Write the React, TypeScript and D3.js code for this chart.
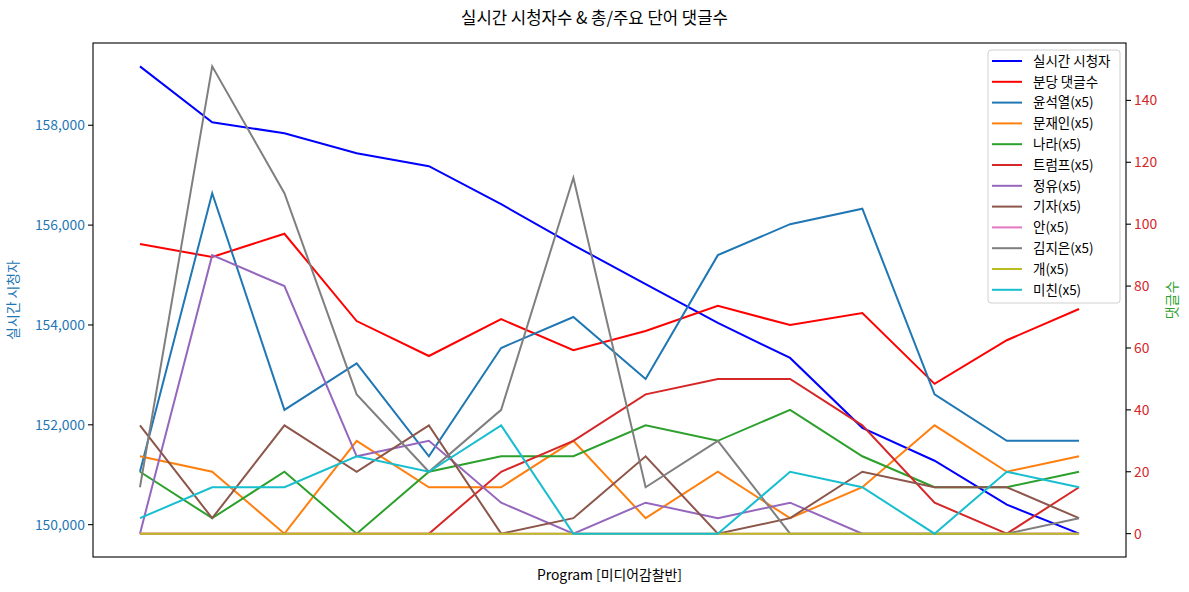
import React from "react";
import * as d3 from "d3";

const W = 1189;
const H = 592;
const FONT = "'Noto Sans CJK KR', 'Noto Sans', sans-serif";

const programs = d3.range(14);
const viewers = [159180, 158060, 157840, 157440, 157180, 156420, 155600, 154820, 154040, 153340, 151940, 151280, 150400, 149820];
const perMinute = [93.6, 89.4, 96.9, 68.7, 57.4, 69.3, 59.3, 65.5, 73.6, 67.4, 71.3, 48.4, 62.5, 72.6];
const yoon = [20, 110, 40, 55, 25, 60, 70, 50, 90, 100, 105, 45, 30, 30];
const moon = [25, 20, 0, 30, 15, 15, 30, 5, 20, 5, 15, 35, 20, 25];
const nara = [20, 5, 20, 0, 20, 25, 25, 35, 30, 40, 25, 15, 15, 20];
const trump = [0, 0, 0, 0, 0, 20, 30, 45, 50, 50, 35, 10, 0, 15];
const jeongyu = [0, 90, 80, 25, 30, 10, 0, 10, 5, 10, 0, 0, 0, 0];
const reporter = [35, 5, 35, 20, 35, 0, 5, 25, 0, 5, 20, 15, 15, 5];
const an = [0, 0, 0, 0, 0, 0, 0, 0, 0, 0, 0, 0, 0, 0];
const kimjieun = [15, 151, 110, 45, 20, 40, 115, 15, 30, 0, 0, 0, 0, 5];
const dog = [0, 0, 0, 0, 0, 0, 0, 0, 0, 0, 0, 0, 0, 0];
const crazy = [5, 15, 15, 25, 20, 35, 0, 0, 0, 20, 15, 0, 20, 15];

const leftTicks = [150000, 152000, 154000, 156000, 158000];
const rightTicks = [0, 20, 40, 60, 80, 100, 120, 140];

const title = "실시간 시청자수 & 총/주요 단어 댓글수";
const xLabel = "Program [미디어감찰반]";
const leftLabel = "실시간 시청자";
const rightLabel = "댓글수";

const rightSeries = [
  { name: "분당 댓글수", color: "#ff0000", values: perMinute },
  { name: "윤석열(x5)", color: "#1f77b4", values: yoon },
  { name: "문재인(x5)", color: "#ff7f0e", values: moon },
  { name: "나라(x5)", color: "#2ca02c", values: nara },
  { name: "트럼프(x5)", color: "#d62728", values: trump },
  { name: "정유(x5)", color: "#9467bd", values: jeongyu },
  { name: "기자(x5)", color: "#8c564b", values: reporter },
  { name: "안(x5)", color: "#e377c2", values: an },
  { name: "김지은(x5)", color: "#7f7f7f", values: kimjieun },
  { name: "개(x5)", color: "#bcbd22", values: dog },
  { name: "미친(x5)", color: "#17becf", values: crazy },
];
const legendItems = [{ name: "실시간 시청자", color: "#0000ff" }, ...rightSeries];

function pad(min: number, max: number): [number, number] {
  const m = (max - min) * 0.05;
  return [min - m, max + m];
}

export default function App() {
  const L = 93, R = 1126, T = 43, B = 557;
  const x = d3.scaleLinear().domain(pad(0, programs.length - 1)).range([L, R]);
  const yl = d3.scaleLinear().domain(pad(d3.min(viewers)!, d3.max(viewers)!)).range([B, T]);
  const allRight = rightSeries.flatMap((s) => s.values);
  const yr = d3.scaleLinear().domain(pad(d3.min(allRight)!, d3.max(allRight)!)).range([B, T]);
  const lineL = d3.line<number>().x((_, i) => x(i)).y((v) => yl(v));
  const lineR = d3.line<number>().x((_, i) => x(i)).y((v) => yr(v));
  const fmt = d3.format(",");

  const legX = 988, legY = 50, legW = 132, legH = 253, rowH = 20.8;
  const fs = 13.9;

  return (
    <svg width={W} height={H} style={{ position: "absolute", left: 0, top: 0, background: "#fff" }} fontFamily={FONT}>
      <rect x={0} y={0} width={W} height={H} fill="#fff" />
      <text x={W / 2} y={24} textAnchor="middle" fontSize={16.7} fill="#000">{title}</text>
      <path d={lineL(viewers)!} fill="none" stroke="#0000ff" strokeWidth={2} />
      {rightSeries.map((s) => (
        <path key={s.name} d={lineR(s.values)!} fill="none" stroke={s.color} strokeWidth={2} />
      ))}
      <rect x={L} y={T} width={R - L} height={B - T} fill="none" stroke="#000" strokeWidth={1.1} />
      {leftTicks.map((t) => (
        <g key={t} transform={`translate(${L},${yl(t)})`}>
          <line x1={-5} x2={0} stroke="#000" strokeWidth={1.1} />
          <text x={-8} dy="0.35em" textAnchor="end" fontSize={fs} fill="#1f77b4">{fmt(t)}</text>
        </g>
      ))}
      {rightTicks.map((t) => (
        <g key={t} transform={`translate(${R},${yr(t)})`}>
          <line x1={0} x2={5} stroke="#000" strokeWidth={1.1} />
          <text x={8} dy="0.35em" textAnchor="start" fontSize={fs} fill="#d62728">{t}</text>
        </g>
      ))}
      <text transform={`translate(18,${(T + B) / 2}) rotate(-90)`} textAnchor="middle" fontSize={fs} fill="#1f77b4">{leftLabel}</text>
      <text transform={`translate(1177,${(T + B) / 2}) rotate(-90)`} textAnchor="middle" fontSize={fs} fill="#2ca02c">{rightLabel}</text>
      <text x={(L + R) / 2} y={580} textAnchor="middle" fontSize={fs} fill="#000">{xLabel}</text>
      <rect x={legX} y={legY} width={legW} height={legH} rx={3} fill="#fff" fillOpacity={0.8} stroke="#d0d0d0" strokeWidth={1} />
      {legendItems.map((s, i) => {
        const cy = legY + 11 + i * rowH;
        return (
          <g key={s.name}>
            <line x1={992} x2={1022} y1={cy} y2={cy} stroke={s.color} strokeWidth={2} />
            <text x={1033} y={cy} dy="0.35em" fontSize={13.5} fill="#000">{s.name}</text>
          </g>
        );
      })}
    </svg>
  );
}
